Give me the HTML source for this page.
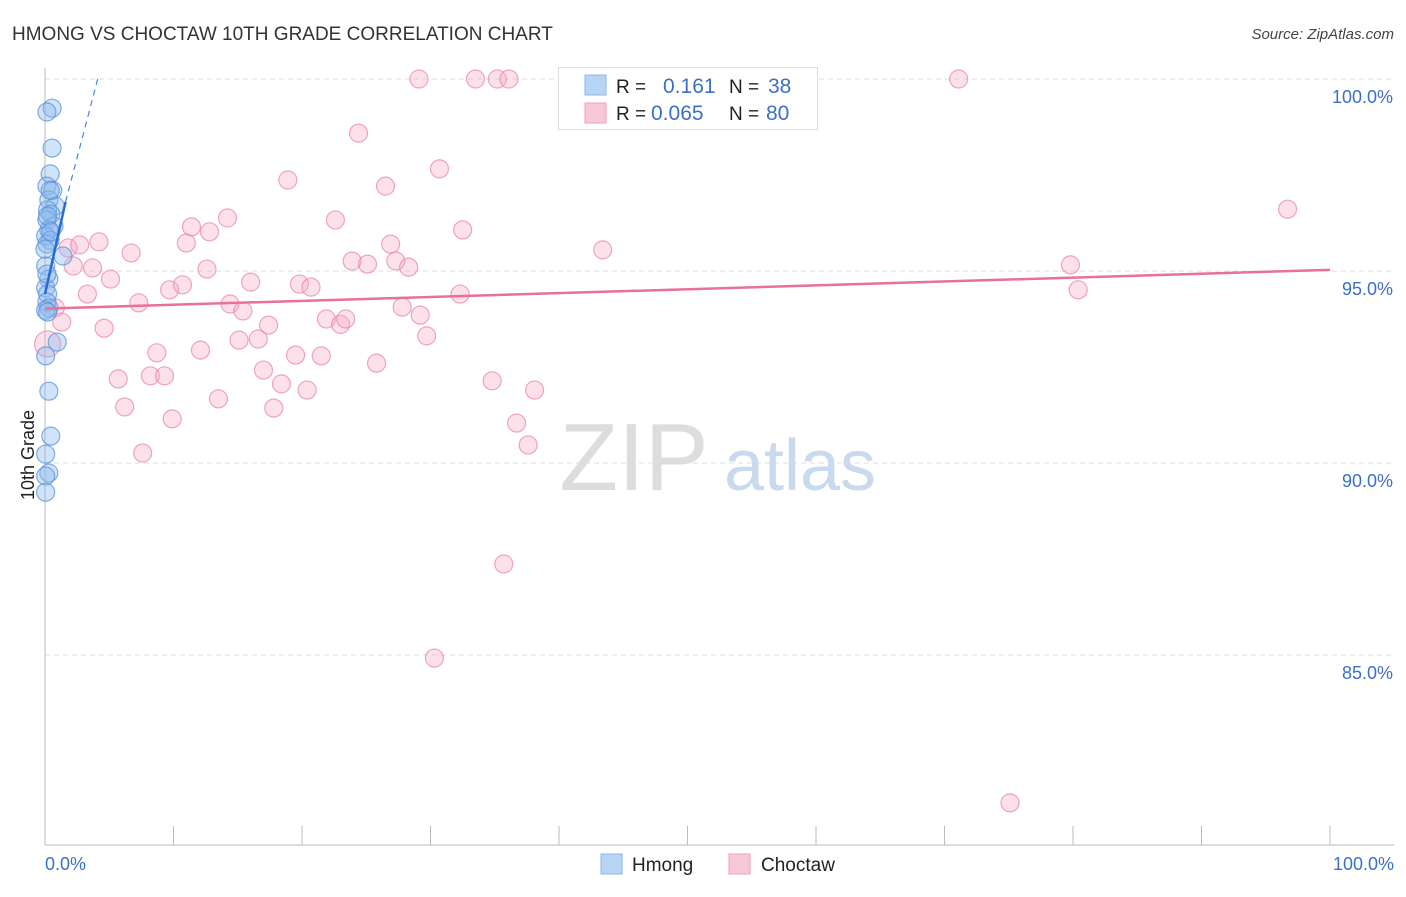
<!DOCTYPE html>
<html><head><meta charset="utf-8"><style>
body{margin:0;background:#fff;font-family:"Liberation Sans",sans-serif;}
svg text{font-family:"Liberation Sans",sans-serif;}
</style></head><body>
<svg id="chart" width="1406" height="892" viewBox="0 0 1406 892" xmlns="http://www.w3.org/2000/svg">
<text x="12" y="40" font-size="19" fill="#333">HMONG VS CHOCTAW 10TH GRADE CORRELATION CHART</text>
<text x="1394" y="39" font-size="15" fill="#444" font-style="italic" text-anchor="end">Source: ZipAtlas.com</text>
<g id="grid"></g>
<g>
<text x="634" y="490" font-size="96" fill="#ddd" font-family="Liberation Serif" text-anchor="middle">ZIP</text>
<text x="800" y="490" font-size="72" fill="#c9d9ee" text-anchor="middle">atlas</text>
</g>
<line x1="45" y1="68" x2="45" y2="845" stroke="#bbb"/>
<line x1="45" y1="845" x2="1394" y2="845" stroke="#bbb"/>
<g id="xticks"></g>
<g id="ylabels"></g>
<text x="45" y="870" font-size="18" fill="#3a70c8">0.0%</text>
<text x="1394" y="870" font-size="18" fill="#3a70c8" text-anchor="end">100.0%</text>
<text transform="translate(34,455) rotate(-90)" font-size="18" fill="#222" text-anchor="middle">10th Grade</text>
<g id="pinkpts"></g>
<g id="bluepts"></g>
<g id="trends"></g>
<g>
<rect x="558.5" y="67.5" width="259" height="62" fill="#fff" stroke="#ddd"/>
<rect x="585" y="75" width="21" height="20" fill="#b8d4f5" stroke="#8fb6e8"/>
<rect x="585" y="103" width="21" height="20" fill="#f9c8d6" stroke="#f0a0b8"/>
<text x="616" y="93" font-size="19" fill="#222">R = </text>
<text x="663" y="93" font-size="21" fill="#3a70c8">0.161</text>
<text x="729" y="93" font-size="19" fill="#222">N = </text>
<text x="768" y="93" font-size="21" fill="#3a70c8">38</text>
<text x="616" y="120" font-size="19" fill="#222">R = </text>
<text x="651" y="120" font-size="21" fill="#3a70c8">0.065</text>
<text x="729" y="120" font-size="19" fill="#222">N = </text>
<text x="766" y="120" font-size="21" fill="#3a70c8">80</text>
</g>
<g>
<rect x="601" y="854" width="21" height="20" fill="#b8d4f5" stroke="#8fb6e8"/>
<text x="632" y="871" font-size="19" fill="#222">Hmong</text>
<rect x="729" y="854" width="21" height="20" fill="#f9c8d6" stroke="#f0a0b8"/>
<text x="761" y="871" font-size="19" fill="#222">Choctaw</text>
</g>
</svg>
<script>
const yTicks=[100,95,90,85];
const yTickLabels=["100.0%","95.0%","90.0%","85.0%"];
const xTicks=[0,10,20,30,40,50,60,70,80,90,100];
const hmongX=[0.55,0.15,0.55,0.4,0.15,0.6,0.3,0.8,0.2,0.45,0.15,0.7,0.3,0.05,0.4,0.15,1.4,0.05,0.3,0.05,0.2,0.15,0.3,0.05,0.95,0.05,0.3,0.45,0.05,0.3,0.05,0.05,0.4,0.2,0.45,0.0,0.15,0.2];
const hmongY=[99.24,99.14,98.2,97.53,97.21,97.1,96.85,96.69,96.59,96.48,96.33,96.17,96.07,95.91,95.8,95.7,95.39,95.13,94.79,94.56,94.4,94.19,94.04,93.98,93.15,92.79,91.87,90.7,90.23,89.74,89.66,89.24,97.1,96.43,96.02,95.57,94.92,93.93];
const choctawX=[0.8,1.3,0.2,1.8,2.7,4.2,2.2,3.7,3.3,5.1,4.6,6.7,7.3,5.7,6.2,7.6,8.7,8.2,9.3,9.9,9.7,10.7,11.0,11.4,12.8,14.2,12.6,12.1,13.5,14.4,15.4,15.1,16.0,16.6,17.0,17.4,18.4,17.8,18.9,19.5,19.8,20.7,20.4,21.5,21.9,22.6,23.0,23.4,23.9,24.4,25.1,25.8,26.5,26.9,27.3,27.8,28.3,29.2,29.7,29.1,30.7,32.3,32.5,33.5,34.8,35.2,35.7,36.1,36.7,37.6,38.1,30.3,43.4,45.5,71.1,75.1,79.8,80.4,96.7];
const choctawY=[94.04,93.67,93.1,95.6,95.68,95.76,95.13,95.08,94.4,94.79,93.51,95.47,94.17,92.19,91.46,90.26,92.87,92.27,92.27,91.15,94.51,94.64,95.73,96.15,96.02,96.38,95.05,92.94,91.67,94.14,93.96,93.2,94.71,93.23,92.42,93.59,92.06,91.43,97.37,92.81,94.66,94.58,91.9,92.79,93.75,96.33,93.61,93.75,95.26,98.59,95.18,92.6,97.21,95.7,95.26,94.06,95.1,93.85,93.31,100,97.66,94.4,96.07,100,92.14,100,87.37,100,91.04,90.47,91.9,84.92,95.55,100,100,81.15,95.16,94.51,96.61];
const blueTrend=[[0,94.4],[1.6,96.8]];
const blueDash=[[1.6,96.8],[4.1,100]];
const pinkTrend=[[0,94.02],[100,95.03]];

const NS="http://www.w3.org/2000/svg";
const X0=45,X1=1330,YT=79,PX5=192;
function sx(v){return X0+(X1-X0)*v/100;}
function sy(v){return YT+(100-v)*PX5/5;}
function mk(tag,attrs,parent){const e=document.createElementNS(NS,tag);for(const k in attrs)e.setAttribute(k,attrs[k]);parent.appendChild(e);return e;}
const grid=document.getElementById('grid'),yl=document.getElementById('ylabels'),xt=document.getElementById('xticks');
yTicks.forEach((t,i)=>{
  const l=mk('line',{x1:45,x2:1394,y1:sy(t),y2:sy(t),stroke:'#ddd','stroke-dasharray':'5,4'},grid);
  
  
  const tx=mk('text',{x:1393,y:sy(t)+24,'font-size':18,fill:'#3a70c8','text-anchor':'end'},yl);
  tx.textContent=yTickLabels[i];
  
  
});
xTicks.forEach(t=>{
  const l=mk('line',{x1:sx(t),x2:sx(t),y1:826,y2:845,stroke:'#bbb'},xt);
  
  
});
const pg=document.getElementById('pinkpts');
choctawX.forEach((x,i)=>{
  const c=mk('circle',{cx:sx(x),cy:sy(choctawY[i]),r:i==2?13:9,fill:'rgba(246,170,196,0.35)',stroke:'rgba(232,130,164,0.7)','stroke-width':1.2},pg);
  
  
});
const bg=document.getElementById('bluepts');
hmongX.forEach((x,i)=>{
  const c=mk('circle',{cx:sx(x),cy:sy(hmongY[i]),r:9,fill:'rgba(140,185,238,0.4)',stroke:'rgba(90,145,220,0.75)','stroke-width':1.2},bg);
  
  
});
const tg=document.getElementById('trends');
let a=mk('line',{x1:sx(pinkTrend[0][0]),y1:sy(pinkTrend[0][1]),x2:sx(pinkTrend[1][0]),y2:sy(pinkTrend[1][1]),stroke:'#e8709a','stroke-width':2.5},tg);


a=mk('line',{x1:sx(blueDash[0][0]),y1:sy(blueDash[0][1]),x2:sx(blueDash[1][0]),y2:sy(blueDash[1][1]),stroke:'#4a86dc','stroke-width':1.2,'stroke-dasharray':'6,5'},tg);


a=mk('line',{x1:sx(blueTrend[0][0]),y1:sy(blueTrend[0][1]),x2:sx(blueTrend[1][0]),y2:sy(blueTrend[1][1]),stroke:'#2a6ad8','stroke-width':2.5},tg);


</script>
</body></html>
